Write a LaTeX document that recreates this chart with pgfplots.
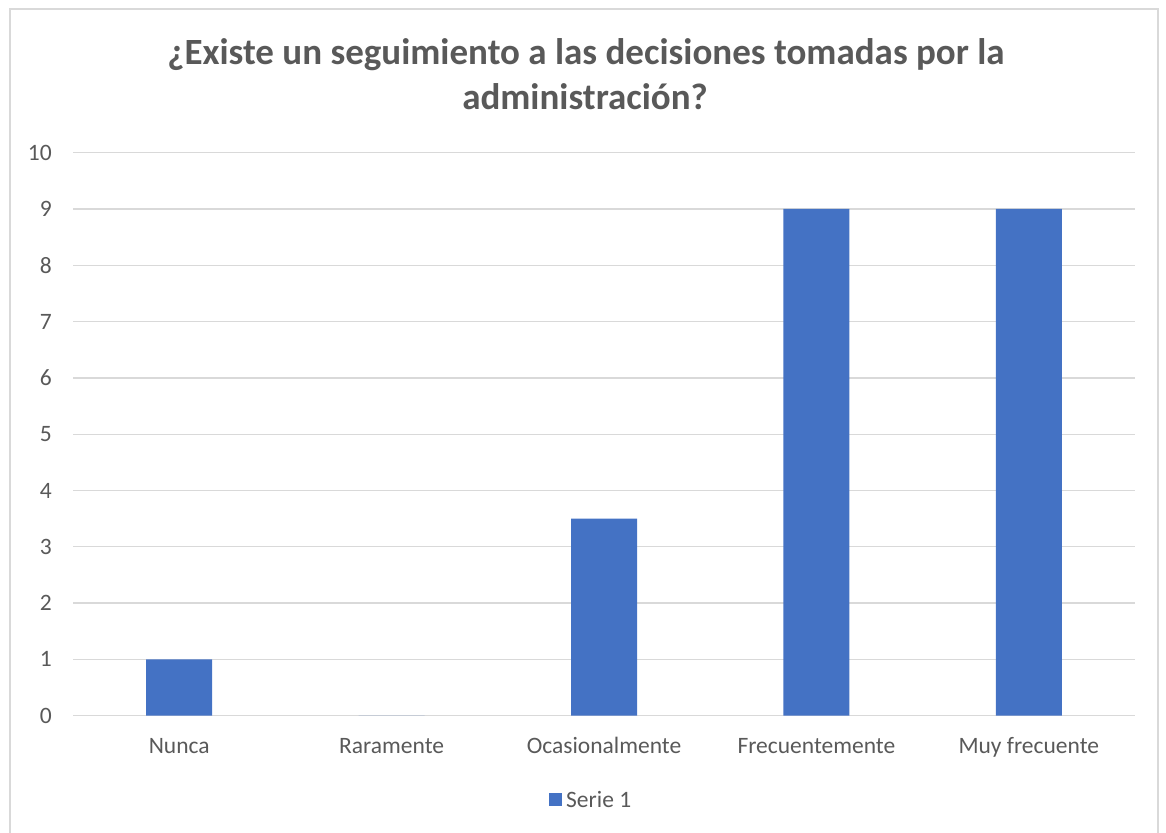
\documentclass[border=0pt]{standalone}
\usepackage{pgfplots}
\pgfplotsset{compat=1.18}
\usepackage{fontspec}
\setmainfont{Carlito}
\definecolor{barblue}{HTML}{4472C4}
\definecolor{gridgray}{HTML}{D9D9D9}
\definecolor{txtgray}{HTML}{595959}
\begin{document}
\begin{tikzpicture}[x=1bp,y=1bp]
\useasboundingbox (0,0) rectangle (1166,833);
\draw[gridgray,line width=1.3bp] (10,-5) -- (10,824) -- (1158,824) -- (1158,-5);
\node[txtgray,font=\fontsize{37bp}{45bp}\selectfont\bfseries,anchor=base,inner sep=0pt] at (586,768) {¿Existe un seguimiento a las decisiones tomadas por la};
\node[txtgray,font=\fontsize{37bp}{45bp}\selectfont\bfseries,anchor=base,inner sep=0pt] at (585,723) {administración?};
\begin{axis}[
  at={(73bp,117.3bp)}, anchor=south west,
  scale only axis, width=1062bp, height=563bp,
  xmin=-0.5, xmax=4.5, ymin=0, ymax=10,
  ytick={0,1,...,10},
  xtick={0,1,2,3,4},
  xticklabels={Nunca,Raramente,Ocasionalmente,Frecuentemente,Muy frecuente},
  ymajorgrids, grid style={gridgray,line width=1.3bp},
  axis line style={draw=none},
  major tick length=0pt,
  /pgf/number format/assume math mode=true,
  ticklabel style={txtgray,font=\fontsize{23.5bp}{28bp}\selectfont,inner sep=0pt},
  yticklabel style={anchor=east,xshift=-21bp},
  xticklabel style={anchor=base,yshift=-38bp},
  clip=false,
]
\addplot[ybar, bar width=66bp, fill=barblue, draw=none] coordinates {(0,1) (1,0) (2,3.5) (3,9) (4,9)};
\end{axis}
\fill[barblue] (549,26.5) rectangle (562,39.5);
\node[txtgray,font=\fontsize{23.5bp}{28bp}\selectfont,anchor=base west,inner sep=0pt] at (566,25) {Serie 1};
\end{tikzpicture}
\end{document}
